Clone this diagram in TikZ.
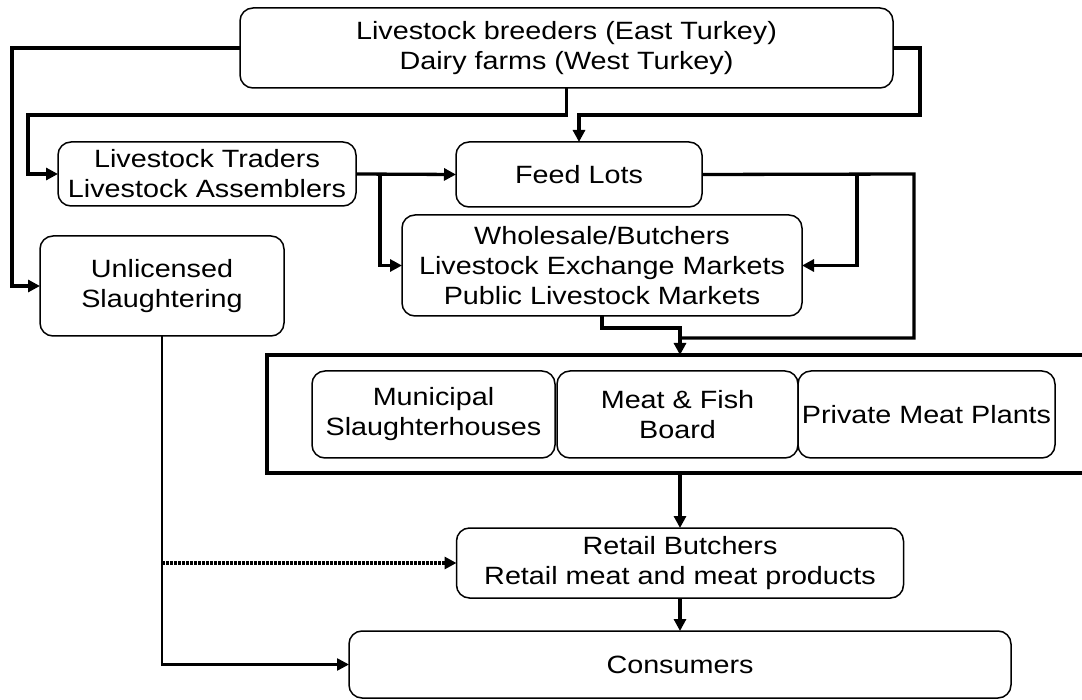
\documentclass[tikz,border=0pt]{standalone}
\usepackage{fontspec}
\setmainfont{Liberation Sans}[FakeStretch=1.15]
\usetikzlibrary{arrows.meta}
\begin{document}
\begin{tikzpicture}[x=1pt,y=-1pt,
  box/.style={draw, line width=1.5pt, rounded corners=13pt, align=center, inner sep=0pt, outer sep=0pt, font=\fontsize{25}{30}\selectfont},
  conn/.style={line width=3.3pt},
  thinconn/.style={line width=2.5pt},
  arr/.style={-{Triangle[length=12pt,width=12pt]}},
  framebox/.style={line width=4.3pt},
  dotconn/.style={line width=3.2pt, dash pattern=on 3pt off 1pt},
]
\useasboundingbox (0,0) rectangle (1082,700);

% nodes
\node[box, minimum width=653pt, minimum height=80pt] (top) at (566.5,48) {Livestock breeders (East Turkey)\\Dairy farms (West Turkey)};
\node[box, minimum width=298pt, minimum height=64pt] (traders) at (207,174) {Livestock Traders\\Livestock Assemblers};
\node[box, minimum width=246pt, minimum height=65pt] (feed) at (579,174.5) {Feed Lots};
\node[box, minimum width=400pt, minimum height=101pt] (whole) at (602,265.5) {Wholesale/Butchers\\Livestock Exchange Markets\\Public Livestock Markets};
\node[box, minimum width=244pt, minimum height=100pt] (unlic) at (162,286) {Unlicensed\\Slaughtering};
\node[box, minimum width=243pt, minimum height=87pt] (muni) at (433.5,414.5) {Municipal\\Slaughterhouses};
\node[box, minimum width=241pt, minimum height=87pt] (meat) at (677.5,414.5) {Meat \& Fish\\Board};
\node[box, minimum width=257pt, minimum height=87pt] (priv) at (926.5,414.5) {Private Meat Plants};
\node[box, minimum width=447pt, minimum height=70pt] (retail) at (680,563) {Retail Butchers\\Retail meat and meat products};
\node[box, minimum width=662pt, minimum height=67pt] (cons) at (680,664.5) {Consumers};

% open thick frame around the slaughter group
\coordinate (frtop) at (680,355);
\coordinate (frbot) at (680,473);
\draw[framebox] (1095,355) -- (267,355) -- (267,473) -- (1095,473);

% connectors
\draw[conn,arr] (top.west) -- (12,48) |- (unlic.west);
\draw[conn,arr] (top.south) |- (28,115) |- (traders.west);
\draw[conn,arr] (top.east) -- (920,48) |- (579,115) -- (feed.north);
\draw[conn,arr] (traders.east) -- (feed.west);
\draw[conn,arr] (380,174) |- (whole.west);
\draw[conn] (feed.east) -- (914,174) |- (680,338);
\draw[conn,arr] (857,174) |- (whole.east);
\draw[conn,arr] (whole.south) |- (680,328) -- (frtop);
\draw[conn,arr] (frbot) -- (retail.north);
\draw[conn,arr] (retail.south) -- (cons.north);
\draw[thinconn,arr] (unlic.south) |- (cons.west);
\draw[dotconn,arr] (162,563) -- (retail.west);
\end{tikzpicture}
\end{document}
